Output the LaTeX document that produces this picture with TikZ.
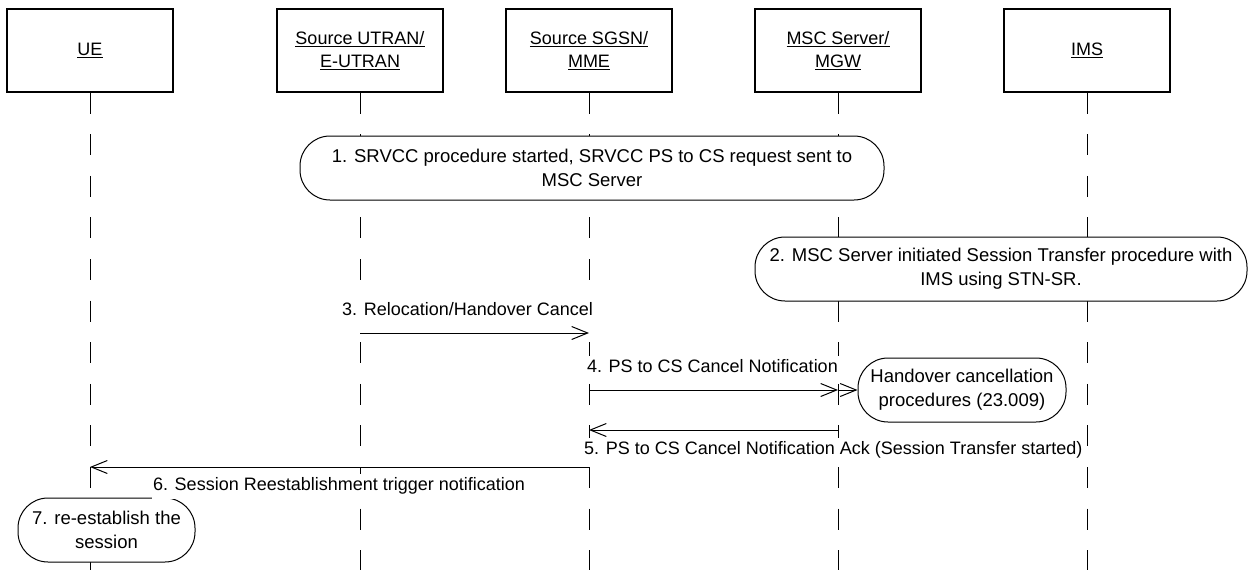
\documentclass[tikz,border=0pt]{standalone}
\usepackage{fontspec}
\setmainfont{Liberation Sans}
\usetikzlibrary{arrows.meta}
\begin{document}
\begin{tikzpicture}[x=1pt,y=-1pt,
  every node/.style={font=\fontsize{18.5}{24}\selectfont},
  entity/.style={draw, line width=1.3pt, minimum width=166pt, minimum height=83pt, align=center, inner sep=0pt, font=\fontsize{18}{23}\selectfont},
  lifeline/.style={line width=1pt, dash pattern=on 21pt off 20.6pt},
  proc/.style={draw, fill=white, rounded corners=30pt, line width=1pt, align=center, inner sep=0pt},
  msg/.style={line width=1pt, -{Straight Barb[length=16pt,width=13pt,line width=1pt]}},
  lbl/.style={inner xsep=1pt, inner ysep=3pt, text height=14pt, text depth=5pt, fill=white, font=\fontsize{18}{23}\selectfont}
]
\useasboundingbox (0,0) rectangle (1250,570);

% entities
\node[entity] (ue)    at (90,50.5)   {\underline{UE}};
\node[entity] (utran) at (360,50.5)  {\underline{Source UTRAN/}\\\underline{E-UTRAN}};
\node[entity] (sgsn)  at (589,50.5)  {\underline{Source SGSN/}\\\underline{MME}};
\node[entity] (msc)   at (838,50.5)  {\underline{MSC Server/}\\\underline{MGW}};
\node[entity] (ims)   at (1087,50.5) {\underline{IMS}};

% lifeline ends
\coordinate (ue-e)    at (90,571);
\coordinate (utran-e) at (360,571);
\coordinate (sgsn-e)  at (589,571);
\coordinate (msc-e)   at (838,571);
\coordinate (ims-e)   at (1087,571);

\draw[lifeline] (ue.south) -- (ue-e);
\draw[lifeline] (utran.south) -- (utran-e);
\draw[lifeline] (sgsn.south) -- (sgsn-e);
\draw[lifeline] (msc.south) -- (msc-e);
\draw[lifeline] (ims.south) -- (ims-e);

% procedure boxes
\node[proc, minimum width=584pt, minimum height=64pt] (p1) at (592,168)
  {1. SRVCC procedure started, SRVCC PS to CS request sent to\\MSC Server};
\node[proc, minimum width=492pt, minimum height=64pt] (p2) at (1001,269)
  {2. MSC Server initiated Session Transfer procedure with\\IMS using STN-SR.};
\node[proc, minimum width=208pt, minimum height=64pt] (hc) at (962,390)
  {Handover cancellation\\procedures (23.009)};
\node[proc, rounded corners=30pt, minimum width=177pt, minimum height=64pt] (p7) at (106.5,530)
  {7. re-establish the\\session};

% message points
\coordinate (m3a) at (360,333);
\coordinate (m3b) at (589,333);
\coordinate (m4a) at (589,390);
\coordinate (m4b) at (838,390);
\coordinate (m5a) at (838,430);
\coordinate (m5b) at (589,430);
\coordinate (m6a) at (589,467);
\coordinate (m6b) at (90,467);

\draw[msg] (m3a) -- (m3b);
\draw[msg] (m4a) -- (m4b);
\draw[msg] (m4b) -- (hc.west);
\draw[msg] (m5a) -- (m5b);
\draw[msg] (m6a) -- (m6b);

% labels
\node[lbl, anchor=west] (l3) at (341,311) {3. Relocation/Handover Cancel};
\node[lbl, anchor=east] (l4) at (839,368) {4. PS to CS Cancel Notification};
\node[lbl, anchor=west] (l5) at (583,450) {5. PS to CS Cancel Notification Ack (Session Transfer started)};
\node[lbl] (l6) at (339,486) {6. Session Reestablishment trigger notification};
\end{tikzpicture}
\end{document}
